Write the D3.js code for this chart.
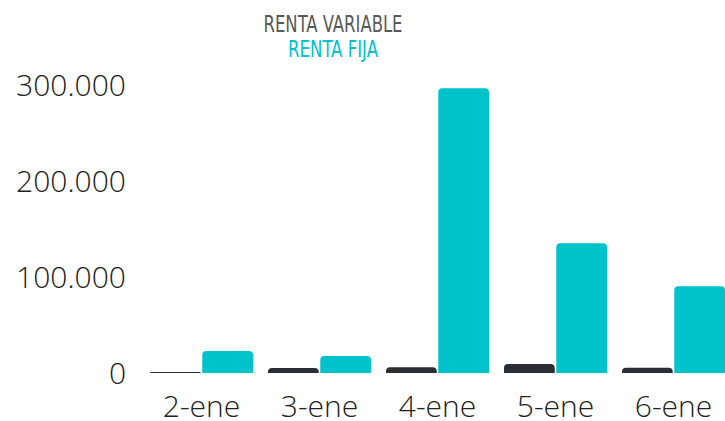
<!DOCTYPE html>
<html>
<head>
<meta charset="utf-8">
<script src="https://cdn.jsdelivr.net/npm/d3@7"></script>
<style>
  html, body { margin: 0; padding: 0; background: #ffffff; }
  svg { display: block; }
</style>
</head>
<body>
<svg id="chart" width="725" height="421"></svg>
<script>
const categories = ["2-ene", "3-ene", "4-ene", "5-ene", "6-ene"];
const seriesNames = ["RENTA VARIABLE", "RENTA FIJA"];
const rentaVariable = [1000, 5200, 5900, 9400, 5500];
const rentaFija = [22800, 17700, 296600, 135100, 90300];
const yTicks = [0, 100000, 200000, 300000];
const yTickLabels = ["0", "100.000", "200.000", "300.000"];
const colors = ["#2b2f33", "#00c2cb"];
const legendColors = ["#595959", "#00c2cb"];

const svg = d3.select("#chart");
const W = 725, H = 421;

const x = d3.scaleBand().domain(categories).range([142.5, 732.5]).paddingInner(0).paddingOuter(0);
const xInner = d3.scaleBand().domain(seriesNames).range([7.5, x.bandwidth() - 7.5]).paddingInner(0.03);
const y = d3.scaleLinear().domain([0, 300000]).range([373, 85]);

const data = categories.map((c, i) => ({ cat: c, values: [rentaVariable[i], rentaFija[i]] }));

function topRounded(x0, y0, w, h, r) {
  r = Math.min(r, h, w / 2);
  return `M${x0},${y0 + h}V${y0 + r}Q${x0},${y0} ${x0 + r},${y0}H${x0 + w - r}Q${x0 + w},${y0} ${x0 + w},${y0 + r}V${y0 + h}Z`;
}

const groups = svg.append("g").selectAll("g").data(data).join("g")
  .attr("transform", d => `translate(${x(d.cat)},0)`);

groups.selectAll("path").data(d => d.values.map((v, k) => ({ v, k }))).join("path")
  .attr("fill", d => colors[d.k])
  .attr("d", d => {
    const x0 = xInner(seriesNames[d.k]);
    const y0 = y(d.v);
    return topRounded(x0, y0, xInner.bandwidth(), y(0) - y0, 4);
  });

// Y axis labels
const yAxis = d3.axisLeft(y).tickValues(yTicks).tickFormat((d, i) => yTickLabels[i]).tickSize(0).tickPadding(0);
const yg = svg.append("g").attr("transform", "translate(126,0)").call(yAxis);
yg.select(".domain").remove();
yg.selectAll("text")
  .attr("font-family", "'Open Sans', sans-serif")
  .attr("font-weight", 300)
  .attr("font-size", 30)
  .attr("fill", "#222")
  .attr("dy", "0.35em")
  .attr("x", 0);

// X axis labels
const xAxis = d3.axisBottom(x).tickSize(0).tickPadding(0);
const xg = svg.append("g").attr("transform", "translate(0,417)").call(xAxis);
xg.select(".domain").remove();
xg.selectAll("text")
  .attr("font-family", "'Open Sans', sans-serif")
  .attr("font-weight", 300)
  .attr("font-size", 30)
  .attr("fill", "#222")
  .attr("y", 0)
  .attr("dy", 0);

// Legend
const legendY = [32, 57];
const legendW = [139, 90];
svg.append("g").selectAll("text").data(seriesNames).join("text")
  .attr("x", 333)
  .attr("y", (d, i) => legendY[i])
  .attr("text-anchor", "middle")
  .attr("font-family", "'DejaVu Sans Condensed', 'DejaVu Sans', sans-serif")
  .attr("font-stretch", "condensed")
  .attr("font-size", 23)
  .attr("textLength", (d, i) => legendW[i])
  .attr("lengthAdjust", "spacingAndGlyphs")
  .attr("fill", (d, i) => legendColors[i])
  .text(d => d);
</script>
</body>
</html>
